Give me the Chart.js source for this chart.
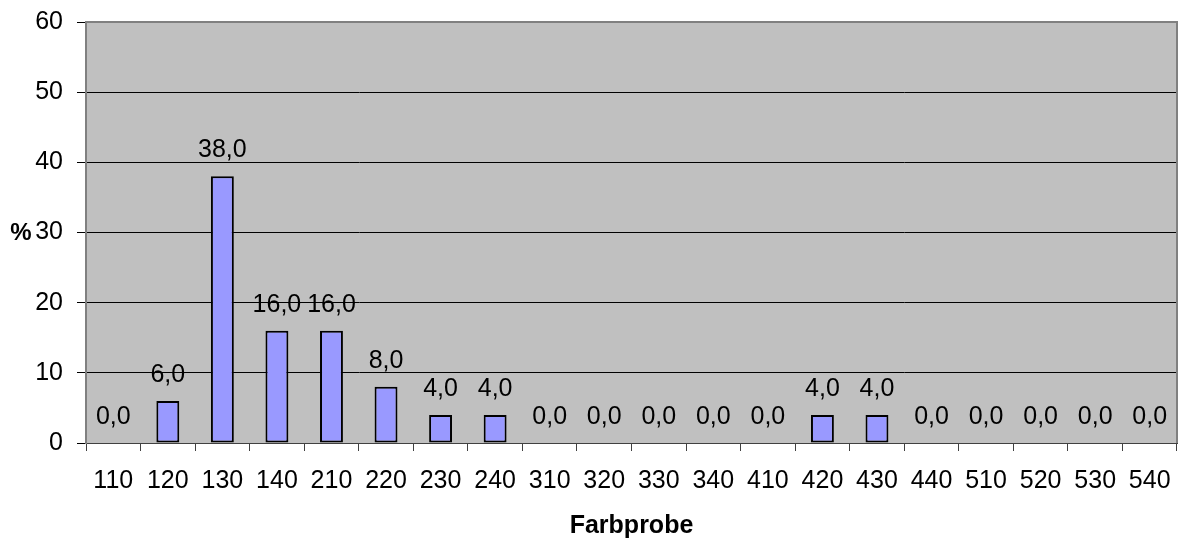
<!DOCTYPE html>
<html>
<head>
<meta charset="utf-8">
<script src="https://cdn.jsdelivr.net/npm/chart.js@4/dist/chart.umd.min.js"></script>
<style>
  html, body { margin: 0; padding: 0; background: #fff; }
  #wrap { width: 1180px; height: 541px; }
</style>
</head>
<body>
<div id="wrap"><canvas id="farbChart" width="1180" height="541"></canvas></div>
<script>
const categories = ['110', '120', '130', '140', '210', '220', '230', '240', '310', '320',
                    '330', '340', '410', '420', '430', '440', '510', '520', '530', '540'];
const percentValues = [0, 6, 38, 16, 16, 8, 4, 4, 0, 0, 0, 0, 0, 4, 4, 0, 0, 0, 0, 0];
const yTicks = [0, 10, 20, 30, 40, 50, 60];
const xTitle = 'Farbprobe';
const yTitle = '%';

const FONT = '"Liberation Sans", Arial, sans-serif';

// grey plot background and border
const plotArea = {
    id: 'plotArea',
    beforeDraw(chart) {
        const { ctx, chartArea: a } = chart;
        ctx.save();
        ctx.fillStyle = '#c0c0c0';
        ctx.fillRect(a.left, a.top, a.right - a.left, a.bottom - a.top);
        ctx.restore();
    },
    afterDatasetsDraw(chart) {
        const { ctx, chartArea: a } = chart;
        ctx.save();
        ctx.strokeStyle = '#808080';
        ctx.lineWidth = 2;
        ctx.beginPath();
        ctx.moveTo(a.left, a.bottom);
        ctx.lineTo(a.left, a.top);
        ctx.lineTo(a.right, a.top);
        ctx.lineTo(a.right, a.bottom);
        ctx.stroke();
        ctx.restore();
    }
};

// value labels like "38,0" and axis titles
const labelsPlugin = {
    id: 'labelsPlugin',
    afterDraw(chart) {
        const { ctx, chartArea: a } = chart;
        const meta = chart.getDatasetMeta(0);
        ctx.save();
        ctx.fillStyle = '#000';
        ctx.font = '25px ' + FONT;
        ctx.textAlign = 'center';
        ctx.textBaseline = 'alphabetic';
        meta.data.forEach((bar, i) => {
            const txt = percentValues[i].toFixed(1).replace('.', ',');
            ctx.fillText(txt, bar.x, bar.y - 19);
        });
        ctx.font = 'bold 24px ' + FONT;
        ctx.fillText(yTitle, 21, 240);
        ctx.font = 'bold 25px ' + FONT;
        ctx.fillText(xTitle, (a.left + a.right) / 2, 533);
        ctx.restore();
    }
};

const ctx = document.getElementById('farbChart').getContext('2d');
const chart = new Chart(ctx, {
    type: 'bar',
    data: {
        labels: categories,
        datasets: [{
            data: percentValues,
            backgroundColor: '#9999ff',
            borderColor: '#000000',
            borderWidth: 2,
            borderSkipped: false,
            categoryPercentage: 1.0,
            barPercentage: 0.42,
        }],
    },
    options: {
        responsive: false,
        animation: false,
        layout: { padding: { top: 22, right: 3, left: 0, bottom: 0 } },
        plugins: {
            legend: { display: false },
            tooltip: { enabled: false },
        },
        scales: {
            x: {
                offset: true,
                grid: {
                    offset: true,
                    drawOnChartArea: false,
                    drawTicks: true,
                    tickLength: 8,
                    color: '#404040',
                    lineWidth: 1,
                },
                border: { color: '#404040', width: 1 },
                ticks: {
                    color: '#000',
                    font: { family: FONT, size: 25 },
                    padding: 15,
                    maxRotation: 0,
                    autoSkip: false,
                },
                afterFit(scale) {
                    scale.height = 98;
                    scale.paddingLeft = 0;
                    scale.paddingRight = 0;
                },
            },
            y: {
                min: 0,
                max: 60,
                afterBuildTicks(scale) {
                    scale.ticks = yTicks.map(v => ({ value: v }));
                },
                grid: {
                    color: '#000',
                    lineWidth: 1,
                    drawTicks: true,
                    tickLength: 9,
                },
                border: { color: '#808080', width: 2 },
                ticks: {
                    color: '#000',
                    font: { family: FONT, size: 25 },
                    padding: 14,
                },
                afterFit(scale) {
                    scale.width = 86;
                    scale.paddingTop = 0;
                    scale.paddingBottom = 0;
                },
            },
        },
    },
    plugins: [plotArea, labelsPlugin],
});
</script>
</body>
</html>
